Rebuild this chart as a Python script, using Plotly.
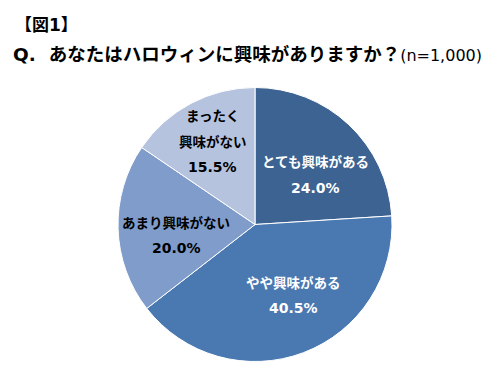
import math
import plotly.graph_objects as go

# ---- data ----
categories = ["とても興味がある", "やや興味がある", "あまり興味がない", "まったく興味がない"]
label_lines = [["とても興味がある"], ["やや興味がある"], ["あまり興味がない"], ["まったく", "興味がない"]]
values = [24.0, 40.5, 20.0, 15.5]
colors = ["#3C6392", "#4A78B0", "#7F9CCB", "#B5C3DE"]
text_colors = ["white", "white", "black", "black"]

W, H = 494, 383
OFF = 8  # page body margin offset
dom_x = [(118 - OFF) / W, (392 - OFF) / W]
dom_y = [1 - (362 - OFF) / H, 1 - (87 - OFF) / H]

fig = go.Figure(go.Pie(
    labels=categories, values=values, sort=False, direction="clockwise", rotation=0,
    marker=dict(colors=colors, line=dict(color="white", width=1)),
    textinfo="none", hoverinfo="label+percent", showlegend=False,
    domain=dict(x=dom_x, y=dom_y),
))

# label positions derived from slice angles (plus small pixel nudges)
cx = (dom_x[0] + dom_x[1]) / 2 * W
cy = (1 - (dom_y[0] + dom_y[1]) / 2) * H
R = min((dom_x[1] - dom_x[0]) * W, (dom_y[1] - dom_y[0]) * H) / 2
label_r = 0.585
nudges = [(6, 9), (10, -4), (1.5, 8.5), (-4.5, -12)]
font_main = "DejaVu Sans, Noto Sans CJK JP"
line_gap = 25.5
total = sum(values)
cum = 0
ann = []
for i, v in enumerate(values):
    mid = (cum + v / 2) / total * 2 * math.pi
    cum += v
    r = R * label_r
    px = cx + r * math.sin(mid) + nudges[i][0]
    py = cy - r * math.cos(mid) + nudges[i][1]
    lines = [f"<span style='font-size:13.5px'>{t}</span>" for t in label_lines[i]] + [f"{v:.1f}%"]
    n = len(lines)
    for j, t in enumerate(lines):
        dy = (j - (n - 1) / 2) * line_gap
        ann.append(dict(x=px / W, y=1 - (py + dy) / H, xref="paper", yref="paper",
                        text=f"<b>{t}</b>", showarrow=False,
                        font=dict(family=font_main, size=14, color=text_colors[i]),
                        xanchor="center", yanchor="middle"))

ann.append(dict(x=5 / W, y=1 - 17 / H, xref="paper", yref="paper", text="<b>【図1】</b>",
                showarrow=False, xanchor="left", yanchor="middle",
                font=dict(family=font_main, size=17, color="black")))
ann.append(dict(x=3 / W, y=1 - 46 / H, xref="paper", yref="paper",
                text="<b>Q.  あなたはハロウィンに興味がありますか？</b>"
                     "<span style='font-size:16px'>(n=1,000)</span>",
                showarrow=False, xanchor="left", yanchor="middle",
                font=dict(family=font_main, size=18.5, color="black")))

fig.update_layout(width=W, height=H, margin=dict(l=0, r=0, t=0, b=0),
                  paper_bgcolor="white", plot_bgcolor="white", annotations=ann)
fig.write_html("out.html")
